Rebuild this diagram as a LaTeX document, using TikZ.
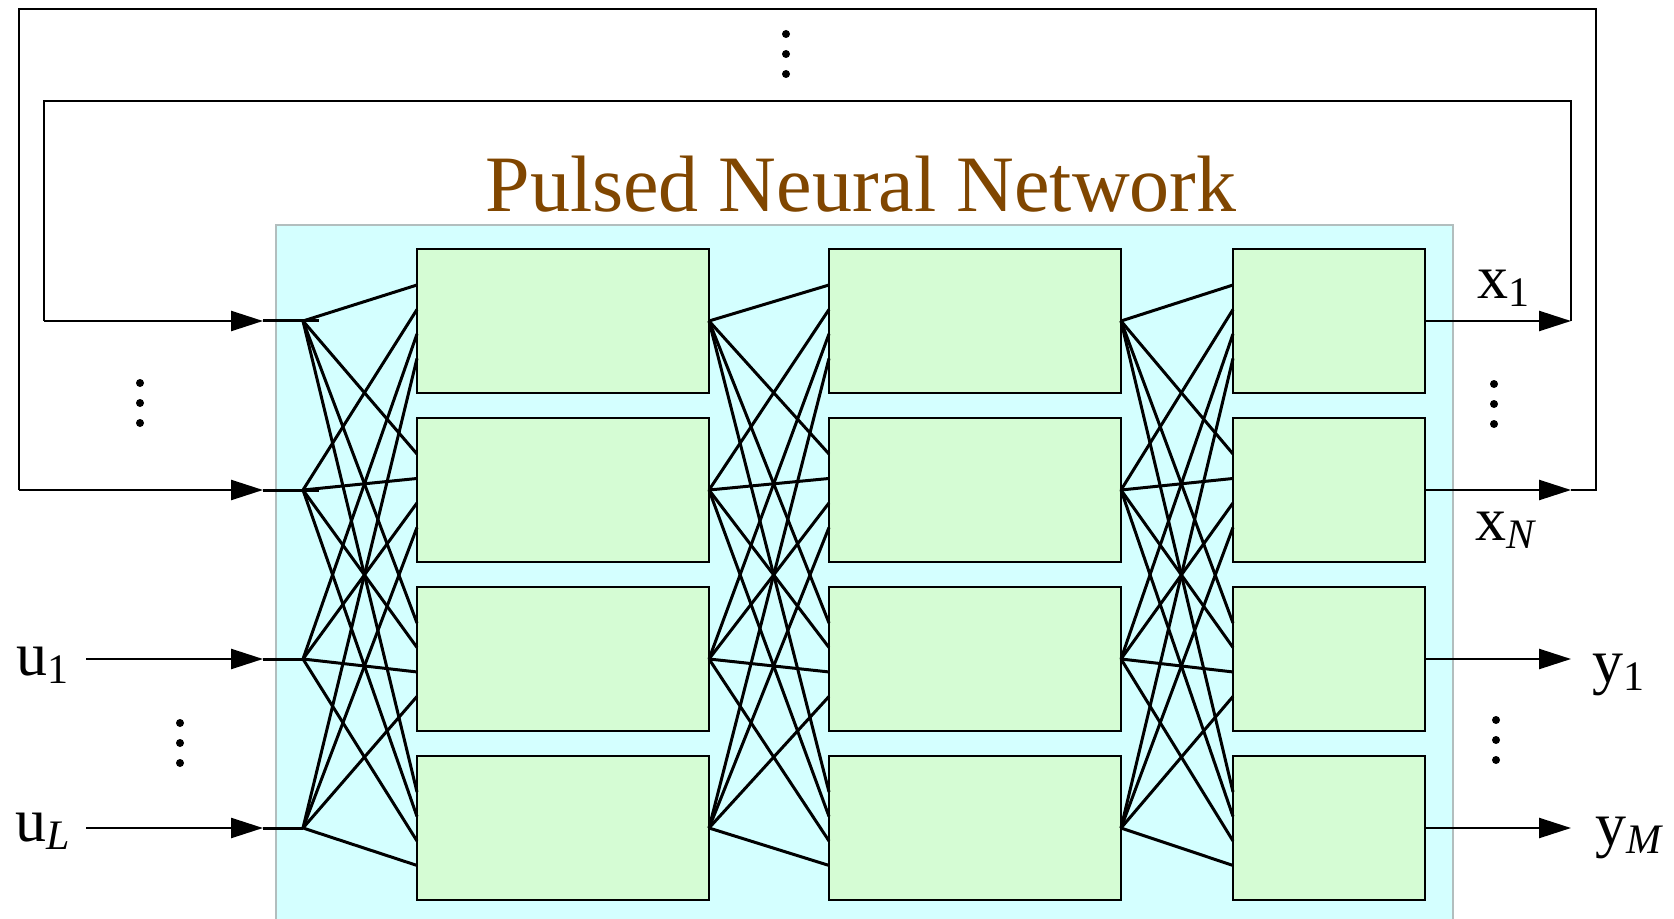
\documentclass[tikz,border=0pt]{standalone}
\usepackage{fontspec}
\setmainfont{Liberation Serif}
\usetikzlibrary{arrows.meta,calc}
\usetikzlibrary{positioning}
\definecolor{netcyan}{RGB}{212,255,255}
\definecolor{netedge}{RGB}{178,190,190}
\definecolor{cellgreen}{RGB}{213,252,212}
\definecolor{titlebrown}{RGB}{128,70,0}
\tikzstyle{cell} = [rectangle, draw=black, line width=1.3pt, fill=cellgreen, minimum height=72pt, inner sep=0pt, outer sep=0pt]
\tikzstyle{wide} = [cell, minimum width=146pt]
\tikzstyle{narrow} = [cell, minimum width=96pt]
\tikzstyle{wire} = [line width=1.5pt]
\tikzstyle{sig} = [line width=1.2pt, -{Triangle[length=16pt,width=10pt]}]
\tikzstyle{fback} = [line width=1.1pt]
\tikzstyle{lbl} = [inner sep=0pt, anchor=base west, font=\fontsize{31}{31}\selectfont]
\newcommand{\sigsub}[2]{#1\raisebox{-4pt}{\fontsize{21}{21}\selectfont #2}}

\begin{document}
\begin{tikzpicture}[x=0.5pt, y=-0.5pt, node distance=12.5pt and 60pt]
\useasboundingbox (0,0) rectangle (1674,919);

  \fill[netcyan, draw=netedge, line width=1.2pt] (276,225) rectangle (1453,940);
  \node (title) [anchor=base, inner sep=0pt, text=titlebrown, font=\fontsize{40}{40}\selectfont] at (861,212) {Pulsed Neural Network};

  % cells
  \node (a1) [wide] at (563,321) {};
  \node (a2) [wide, below=of a1] {};
  \node (a3) [wide, below=of a2] {};
  \node (a4) [wide, below=of a3] {};
  \node (b1) [wide, right=of a1] {};
  \node (b2) [wide, below=of b1] {};
  \node (b3) [wide, below=of b2] {};
  \node (b4) [wide, below=of b3] {};
  \node (c1) [narrow, right=56pt of b1] {};
  \node (c2) [narrow, below=of c1] {};
  \node (c3) [narrow, below=of c2] {};
  \node (c4) [narrow, below=of c3] {};

  \foreach \i in {1,...,4}
    \coordinate (in\i) at ($(a\i.west)+(-114,0)$);

  % full connections
  \foreach \i/\f in {1/0.25,2/0.42,3/0.59,4/0.76}
    \foreach \j in {1,...,4} {
      \draw[wire] (in\i) -- ($(a\j.north west)!\f!(a\j.south west)$);
      \draw[wire] (a\i.east) -- ($(b\j.north west)!\f!(b\j.south west)$);
      \draw[wire] (b\i.east) -- ($(c\j.north west)!\f!(c\j.south west)$);
    }

  % outputs and feedback
  \coordinate (r1) at ($(c1.east)+(146,0)$);
  \coordinate (r2) at ($(c2.east)+(146,0)$);
  \coordinate (r3) at ($(c3.east)+(146,0)$);
  \coordinate (r4) at ($(c4.east)+(146,0)$);
  \foreach \i in {1,...,4}
    \draw[sig] (c\i.east) -- (r\i);
  \coordinate (l1) at ($(in1)+(-259,0)$);
  \coordinate (l2) at ($(in2)+(-284,0)$);
  \draw[fback] (r1) |- (44,101) -- (l1);
  \draw[fback] (r2) -- ++(25,0) |- (19,9) -- (l2);
  \coordinate (l3) at ($(in3)+(-217,0)$);
  \coordinate (l4) at ($(in4)+(-217,0)$);
  \foreach \i in {1,...,4} {
    \draw[sig] (l\i) -- ($(in\i)+(-40,0)$);
    \draw[wire] ($(in\i)+(-40,0)$) -- (in\i);
  }
  \draw[wire] (in1) -- ++(16,0);
  \draw[wire] (in2) -- ++(16,0);

  \node (lu1) [lbl] at (16,675) {\sigsub{u}{1}};
  \node (luL) [lbl] at (15,841) {\sigsub{u}{\textit{L}}};
  \node (lx1) [lbl] at (1477,299) {\sigsub{x}{1}};
  \node (lxN) [lbl] at (1475,540) {\sigsub{x}{\textit{N}}};
  \node (ly1) [lbl] at (1592,682) {\sigsub{y}{1}};
  \node (lyM) [lbl] at (1595,845) {\sigsub{y}{\textit{M}}};

  \foreach \cx/\cy in {786/54, 140/403, 180/743, 1494/404, 1496/740}
    \foreach \dy in {-20,0,20}
      \fill (\cx,\cy+\dy) circle (4);
\end{tikzpicture}
\end{document}
